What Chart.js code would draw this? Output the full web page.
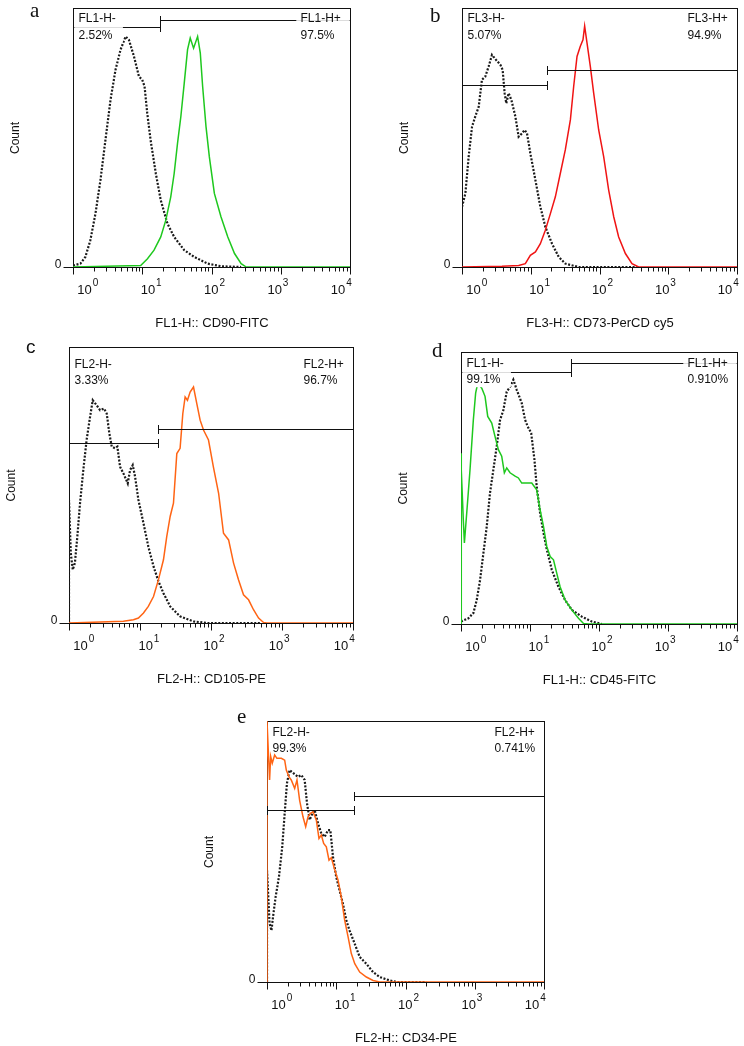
<!DOCTYPE html>
<html>
<head>
<meta charset="utf-8">
<title>Flow cytometry histograms</title>
<script src="https://cdn.jsdelivr.net/npm/chart.js@4.4.1/dist/chart.umd.min.js"></script>
<style>
  html, body { margin: 0; padding: 0; background: #fff; }
  #page { position: relative; width: 744px; height: 1046px; overflow: hidden; }
  #page canvas { position: absolute; }
</style>
</head>
<body>
<div id="page"></div>
<script>
// ---- values ----
var decades = [1, 10, 100, 1000, 10000];
var decadeExp = ["0", "1", "2", "3", "4"];
var panelLetters = ["a", "b", "c", "d", "e"];
var axisTitles = ["FL1-H:: CD90-FITC", "FL3-H:: CD73-PerCD cy5", "FL2-H:: CD105-PE", "FL1-H:: CD45-FITC", "FL2-H:: CD34-PE"];
var negGateNames = ["FL1-H-", "FL3-H-", "FL2-H-", "FL1-H-", "FL2-H-"];
var posGateNames = ["FL1-H+", "FL3-H+", "FL2-H+", "FL1-H+", "FL2-H+"];
var negPercent = ["2.52%", "5.07%", "3.33%", "99.1%", "99.3%"];
var posPercent = ["97.5%", "94.9%", "96.7%", "0.910%", "0.741%"];
var gateSplit = [17.8, 17.2, 17.8, 39.5, 17.8];
var gateNegLevel = [92.5, 70.3, 65.3, 92.6, 65.9];
var gatePosLevel = [95.5, 75.9, 70.2, 96.0, 71.3];

// a: CD90-FITC
var isoXa = [1, 1.28, 1.51, 1.78, 2.11, 2.49, 2.94, 3.48, 4.11, 4.86, 5.75, 6.42, 7.59, 8.97, 10, 10.8, 11.8, 13.2, 15.7, 18.5, 23.1, 28.9, 40.4, 56.3, 88, 137, 268];
var isoYa = [0.6, 1.3, 3.9, 10.3, 20.6, 33.5, 49, 64.5, 76.1, 83.9, 89, 87.7, 81.3, 73.5, 72.3, 69.7, 59.4, 49, 36.1, 25.8, 16.8, 11.6, 6.5, 3.9, 1.3, 0.3, 0];
var cd90X = [1, 9.5, 11.9, 14.8, 18.5, 21.9, 25.8, 28.9, 32.3, 36.1, 40.4, 45.1, 49.3, 55.1, 63, 68.9, 74.5, 83.3, 93, 110, 137, 172, 215, 268, 317, 10000];
var cd90Y = [0, 0.6, 3.2, 6.5, 11.6, 18.1, 27.1, 36.1, 47.7, 58.1, 71, 83.9, 88.4, 84.5, 89, 82.6, 69.7, 54.2, 42.6, 28.4, 19.4, 11.6, 5.2, 1.3, 0, 0];

// b: CD73-PerCP cy5
var isoXb = [1, 1.12, 1.25, 1.4, 1.56, 1.75, 1.95, 2.18, 2.44, 2.73, 3.12, 3.61, 3.9, 4.17, 4.41, 4.77, 5.22, 5.97, 6.67, 7.46, 8.16, 8.82, 9.86, 11.7, 13.8, 16.3, 20.4, 25.5, 31.8, 49.8, 350];
var isoYb = [23.2, 28.4, 42.6, 54.2, 58.1, 61.9, 72.3, 73.5, 77.4, 81.9, 80, 78.1, 76.1, 67.1, 63.2, 67.1, 64.5, 58.1, 50.3, 51.6, 52.9, 51.6, 43.9, 33.5, 23.2, 15.5, 9, 3.9, 1.3, 0, 0];
var cd73X = [1, 3.82, 6.67, 8.34, 9.86, 11.7, 13.8, 16.3, 19.3, 22.8, 26.9, 31.8, 37.7, 42.1, 47.1, 52.6, 57.5, 60.8, 65.8, 73.6, 82.3, 97.3, 115, 136, 161, 190, 238, 297, 371, 10000];
var cd73Y = [0, 0.3, 0.6, 1.3, 4.5, 5.8, 9, 14.2, 20.6, 27.1, 36.1, 45.2, 56.8, 69.7, 81.3, 85.2, 87.7, 93, 86.5, 77.4, 67.1, 52.9, 42.6, 29.7, 19.4, 11.6, 5.2, 1.3, 0, 0];

// c: CD105-PE
var isoXc = [1, 1, 1.06, 1.13, 1.21, 1.31, 1.43, 1.59, 1.77, 1.98, 2.16, 2.45, 2.74, 3.11, 3.4, 3.7, 4, 4.45, 4.8, 5.24, 5.84, 6.72, 7.25, 7.9, 8.53, 9.5, 11.2, 13.1, 15.5, 18.2, 21.4, 26.6, 36.7, 56.7, 87.4, 500];
var isoYc = [0, 44.6, 25.3, 19.3, 21.7, 31.3, 43.4, 55.4, 66.3, 74.7, 80.7, 78.9, 77.1, 77.7, 75.9, 68.7, 63.9, 63.3, 63.9, 56.6, 54.2, 50.6, 55.4, 57.2, 53, 44.6, 36.1, 27.7, 20.5, 15.1, 10.8, 6, 2.4, 0.6, 0, 0];
var cd105X = [1, 5.84, 8.08, 9.5, 11.2, 13.1, 15.5, 18.2, 21.4, 23.8, 26.6, 29.6, 33, 36.7, 40.1, 43.2, 46.6, 50.8, 56.7, 63.1, 70.3, 78.4, 92.2, 108, 128, 150, 177, 208, 244, 287, 338, 397, 468, 550, 613, 10000];
var cd105Y = [0, 0.6, 1.2, 1.8, 3.6, 6, 9.6, 15.7, 22.9, 31.3, 38.6, 43.4, 61.4, 63.3, 75.9, 81.9, 80.7, 83.7, 85.5, 79.5, 73.5, 69.9, 66.3, 56.6, 47, 32.5, 30.1, 21.7, 15.7, 10.2, 8.4, 4.8, 1.8, 0.2, 0, 0];

// d: CD45-FITC
var isoXd = [1, 1.28, 1.51, 1.69, 1.89, 2.11, 2.36, 2.63, 2.94, 3.29, 3.68, 4.11, 4.6, 5.14, 5.74, 6.42, 7.59, 8.48, 9.27, 10.4, 11.6, 12.5, 14, 15.7, 17.5, 20.7, 25.8, 32.3, 40.3, 56.4, 78.7, 110];
var isoYd = [0.9, 2.1, 4, 8.8, 16.2, 26, 35.8, 48.1, 56.6, 65.2, 75, 78.6, 85.4, 87.2, 89.8, 86.1, 81.2, 75.1, 72.6, 70.2, 60.4, 50.6, 40.8, 33.5, 27.4, 19.9, 13.7, 8.8, 5.2, 2.7, 0.9, 0];
var cd45X = [1, 1, 1.02, 1.08, 1.12, 1.21, 1.35, 1.51, 1.63, 1.75, 2, 2.23, 2.44, 2.79, 3.11, 3.48, 3.89, 4.25, 4.6, 5.14, 6.08, 6.79, 7.59, 10.6, 12.5, 14, 15.7, 17.5, 19.6, 21.9, 24.4, 27.3, 32.3, 40.3, 50.4, 59.6, 70.4, 10000];
var cd45Y = [0, 62.8, 56.6, 38.3, 29.8, 40.7, 56.6, 75.1, 84.9, 88.6, 86.7, 83.7, 76.3, 73.9, 69, 64.1, 61.7, 55.6, 57.4, 55.6, 54.4, 53.7, 51.8, 51.8, 49.3, 42, 35.8, 28.5, 24.8, 23.6, 18.7, 13.7, 8.8, 5.2, 2.1, 0.2, 0, 0];

// e: CD34-PE
var isoXe = [1, 1, 1.09, 1.16, 1.22, 1.33, 1.49, 1.66, 1.8, 1.94, 2.12, 2.43, 2.8, 3.13, 3.5, 3.78, 4.13, 4.52, 4.88, 5.45, 6.09, 6.8, 7.6, 8.22, 8.98, 10, 11.2, 12.5, 14, 15.6, 18.5, 21.8, 27.2, 34, 42.4, 59.1, 73.8, 200];
var isoYe = [0, 42.8, 22.3, 19.7, 24.8, 32.5, 40.4, 51.8, 64.6, 76.1, 81.2, 79.9, 78.6, 79.3, 77.4, 68.5, 62.1, 64.6, 65.9, 60.8, 56.9, 55.6, 58.2, 58.2, 47.9, 40.2, 35, 29.9, 23.5, 19.7, 14.6, 9.6, 7, 3.8, 1.9, 0.6, 0, 0];
var cd34X = [1, 1, 1.09, 1.13, 1.19, 1.29, 1.39, 1.61, 1.8, 1.9, 2.08, 2.24, 2.51, 2.71, 2.96, 3.31, 3.62, 3.91, 4.23, 4.62, 5.16, 5.63, 6.09, 6.58, 7.19, 7.86, 8.49, 9.49, 10.6, 11.8, 13.2, 14.8, 16.5, 18.5, 21.8, 27.2, 34, 42.4, 10000];
var cd34Y = [0, 100, 77.4, 86.4, 83.8, 87, 85.7, 85.7, 85, 81.2, 78.6, 77.4, 74.2, 77.4, 69.6, 63.3, 59.5, 63.3, 64.6, 65.2, 62, 55, 56.3, 53.1, 51.8, 46.7, 47.6, 43.1, 39.1, 32.7, 23.8, 17.4, 10.9, 7, 3.8, 1.9, 0.6, 0, 0];

var isoX = [isoXa, isoXb, isoXc, isoXd, isoXe];
var isoY = [isoYa, isoYb, isoYc, isoYd, isoYe];
var stainX = [cd90X, cd73X, cd105X, cd45X, cd34X];
var stainY = [cd90Y, cd73Y, cd105Y, cd45Y, cd34Y];

// ---- layout and look ----
var sans = "'Liberation Sans', Arial, sans-serif";
var serif = "'Liberation Serif', 'Times New Roman', serif";
var stainColors = ["#1ec81e", "#f01414", "#ff6414", "#1ec81e", "#ff6414"];
var ink = "#111";

// box = canvas [left, top, w, h]; frame = plot box [left, top, right, bottom] (page coords)
var layout = [
    { box: [0, 0, 372, 335], frame: [73, 8, 350, 267], letter: [30, 17], letterFont: "21px " + serif, rows: [13.5, 30] },
    { box: [372, 0, 372, 335], frame: [462, 8, 737, 267], letter: [430, 22], letterFont: "21px " + serif, rows: [13.5, 30] },
    { box: [0, 335, 372, 360], frame: [69, 347, 353, 623], letter: [26, 353], letterFont: "19px " + sans, rows: [20, 36.5] },
    { box: [372, 335, 372, 360], frame: [461, 352, 737, 624], letter: [432, 357], letterFont: "21px " + serif, rows: [14.7, 30.7] },
    { box: [186, 695, 372, 351], frame: [267, 721, 544, 982], letter: [237, 723], letterFont: "21px " + serif, rows: [14, 30.7] }
];

function points(xs, ys) {
    return xs.map(function (x, k) { return { x: x, y: ys[k] }; });
}

function edges(chart) {
    var xs = chart.scales.x, ys = chart.scales.y;
    return {
        left: Math.round(xs.getPixelForValue(decades[0])) + 0.5,
        right: Math.round(xs.getPixelForValue(decades[4])) + 0.5,
        top: Math.round(ys.getPixelForValue(100)) + 0.5,
        bottom: Math.round(ys.getPixelForValue(0)) + 0.5
    };
}

// frame + tick marks under the curves, gates and texts over them
var flowDecor = {
    id: "flowDecor",
    beforeDatasetsDraw: function (chart) {
        var ctx = chart.ctx, xs = chart.scales.x;
        var e = edges(chart);
        ctx.save();
        ctx.strokeStyle = ink;
        ctx.lineWidth = 1;
        ctx.strokeRect(e.left, e.top, e.right - e.left, e.bottom - e.top);
        ctx.beginPath();
        ctx.moveTo(e.left - 10, e.bottom); ctx.lineTo(e.left, e.bottom);
        for (var d = 0; d < decades.length; d++) {
            var px = Math.round(xs.getPixelForValue(decades[d])) + 0.5;
            ctx.moveTo(px, e.bottom); ctx.lineTo(px, e.bottom + 7);
            if (d < decades.length - 1) {
                for (var k = 2; k <= 9; k++) {
                    var mx = Math.round(xs.getPixelForValue(k * decades[d])) + 0.5;
                    ctx.moveTo(mx, e.bottom); ctx.lineTo(mx, e.bottom + 4);
                }
            }
        }
        ctx.stroke();
        ctx.restore();
    },
    afterDraw: function (chart, args, opts) {
        var i = opts.panel;
        var L = layout[i];
        var ctx = chart.ctx;
        var xs = chart.scales.x, ys = chart.scales.y;
        var e = edges(chart);
        var left = e.left, right = e.right, top = e.top, bottom = e.bottom;

        ctx.save();
        ctx.strokeStyle = ink;
        ctx.lineWidth = 1;

        // gates
        var gx = Math.round(xs.getPixelForValue(gateSplit[i])) + 0.5;
        var gn = Math.round(ys.getPixelForValue(gateNegLevel[i])) + 0.5;
        var gp = Math.round(ys.getPixelForValue(gatePosLevel[i])) + 0.5;
        function gate(x1, x2, y) {
            ctx.beginPath();
            ctx.moveTo(x1, y); ctx.lineTo(x2, y);
            ctx.moveTo(x1, y - 4.5); ctx.lineTo(x1, y + 4.5);
            ctx.moveTo(x2, y - 4.5); ctx.lineTo(x2, y + 4.5);
            ctx.stroke();
        }
        gate(left, gx, gn);
        gate(gx, right, gp);

        // gate labels (white box where a gate line runs through them)
        ctx.font = "12px " + sans;
        var row1 = top + L.rows[0], row2 = top + L.rows[1];
        var lx = left + 5, rx = right - 50;
        var lw = Math.max(ctx.measureText(negGateNames[i]).width, ctx.measureText(negPercent[i]).width);
        function cover(x1, x2, y) {
            if (y > row2 + 3) return;
            ctx.fillStyle = "#fff";
            ctx.fillRect(x1, top + 1, x2 - x1, row2 + 3 - top);
            ctx.strokeStyle = "#b8b8b8";
            ctx.setLineDash([1, 1]);
            ctx.beginPath(); ctx.moveTo(x1, y); ctx.lineTo(x2, y); ctx.stroke();
            ctx.setLineDash([]);
            ctx.strokeStyle = ink;
        }
        cover(left + 1, lx + lw + 7, gn);
        cover(rx - 4, right - 1, gp);
        ctx.fillStyle = ink;
        ctx.textAlign = "left";
        ctx.textBaseline = "alphabetic";
        ctx.fillText(negGateNames[i], lx, row1);
        ctx.fillText(negPercent[i], lx, row2);
        ctx.fillText(posGateNames[i], rx, row1);
        ctx.fillText(posPercent[i], rx, row2);

        // decade labels 10^n
        var c0 = left + 11, c4 = right - 12.5;
        for (var j = 0; j < decades.length; j++) {
            var cx = c0 + (c4 - c0) * j / (decades.length - 1);
            ctx.font = "13px " + sans;
            ctx.textAlign = "center";
            ctx.fillText("10", cx, bottom + 26);
            var w = ctx.measureText("10").width;
            ctx.font = "10px " + sans;
            ctx.textAlign = "left";
            ctx.fillText(decadeExp[j], cx + w / 2 + 1, bottom + 18);
        }

        // y zero, Count, axis title, panel letter
        ctx.font = "12px " + sans;
        ctx.textAlign = "right";
        ctx.textBaseline = "middle";
        ctx.fillText("0", left - 12, bottom - 3);

        ctx.save();
        ctx.translate(left - 58, (top + bottom) / 2);
        ctx.rotate(-Math.PI / 2);
        ctx.textAlign = "center";
        ctx.fillText("Count", 0, 0);
        ctx.restore();

        ctx.font = "13px " + sans;
        ctx.textAlign = "center";
        ctx.textBaseline = "alphabetic";
        ctx.fillText(axisTitles[i], (left + right) / 2, bottom + 59);

        ctx.font = L.letterFont;
        ctx.textAlign = "left";
        ctx.fillText(panelLetters[i], L.letter[0] - L.box[0], L.letter[1] - L.box[1]);
        ctx.restore();
    }
};

var page = document.getElementById("page");
layout.forEach(function (L, i) {
    var canvas = document.createElement("canvas");
    canvas.width = L.box[2];
    canvas.height = L.box[3];
    canvas.style.left = L.box[0] + "px";
    canvas.style.top = L.box[1] + "px";
    page.appendChild(canvas);

    new Chart(canvas.getContext("2d"), {
        type: "line",
        data: {
            datasets: [
                {
                    label: axisTitles[i],
                    data: points(stainX[i], stainY[i]),
                    borderColor: stainColors[i],
                    borderWidth: 1.5
                },
                {
                    label: "Isotype",
                    data: points(isoX[i], isoY[i]),
                    borderColor: "#1a1a1a",
                    borderWidth: 2.2,
                    borderDash: [2, 1.6]
                }
            ]
        },
        options: {
            responsive: false,
            animation: false,
            events: [],
            layout: {
                padding: {
                    left: L.frame[0] - L.box[0],
                    top: L.frame[1] - L.box[1],
                    right: L.box[0] + L.box[2] - L.frame[2],
                    bottom: L.box[1] + L.box[3] - L.frame[3]
                }
            },
            elements: { point: { radius: 0 }, line: { tension: 0, fill: false } },
            scales: {
                x: { type: "logarithmic", min: decades[0], max: decades[4], display: false },
                y: { type: "linear", min: 0, max: 100, display: false }
            },
            plugins: {
                legend: { display: false },
                tooltip: { enabled: false },
                flowDecor: { panel: i }
            }
        },
        plugins: [flowDecor]
    });
});
</script>
</body>
</html>
